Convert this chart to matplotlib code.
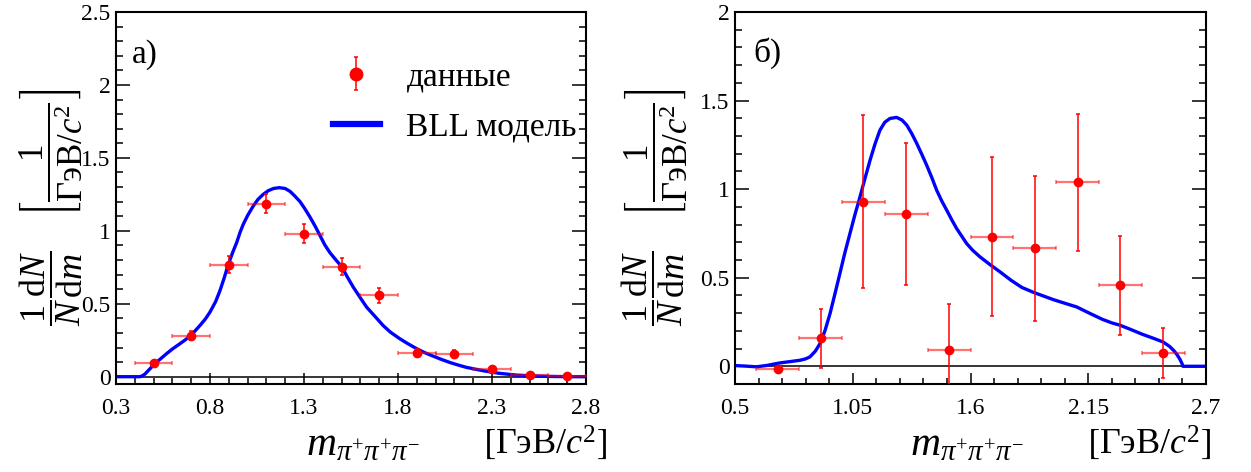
import numpy as np
import matplotlib
matplotlib.use("Agg")
import matplotlib.pyplot as plt
from matplotlib.ticker import FixedLocator, FuncFormatter
from matplotlib.container import ErrorbarContainer
from matplotlib.legend_handler import HandlerErrorbar

plt.rcParams['font.family'] = ['Liberation Serif', 'DejaVu Serif']
plt.rcParams['mathtext.fontset'] = 'custom'
plt.rcParams['mathtext.rm'] = 'Liberation Serif'
plt.rcParams['mathtext.it'] = 'Liberation Serif:italic'
plt.rcParams['mathtext.bf'] = 'Liberation Serif:bold'
plt.rcParams['mathtext.fallback'] = 'stix'

# ---------------- data: panel a) ----------------
a_x = [0.5, 0.7, 0.9, 1.1, 1.3, 1.5, 1.7, 1.9, 2.1, 2.3, 2.5, 2.7]
a_xerr = [0.1] * 12
a_y = [0.091, 0.282, 0.768, 1.186, 0.980, 0.755, 0.559, 0.164, 0.155, 0.050, 0.014, 0.004]
a_yerr = [0.012, 0.030, 0.057, 0.063, 0.065, 0.057, 0.052, 0.028, 0.028, 0.010, 0.005, 0.003]

a_curve_x = [0.30, 0.40, 0.428, 0.44, 0.454, 0.47, 0.485, 0.499, 0.53, 0.57, 0.60, 0.641,
             0.67, 0.697, 0.72, 0.747, 0.775, 0.80, 0.83, 0.853, 0.875, 0.897, 0.92,
             0.942, 0.96, 0.977, 1.00, 1.03, 1.055, 1.083, 1.11, 1.137, 1.169, 1.20,
             1.226, 1.25, 1.279, 1.305, 1.332, 1.36, 1.385, 1.41, 1.438, 1.47, 1.50,
             1.53, 1.562, 1.60, 1.633, 1.68, 1.72, 1.76, 1.809, 1.85, 1.898, 1.94,
             1.987, 2.03, 2.075, 2.12, 2.164, 2.21, 2.253, 2.30, 2.34, 2.43, 2.52,
             2.60, 2.70, 2.80]
a_curve_y = [0.0, 0.0, 0.0, 0.006, 0.018, 0.04, 0.06, 0.08, 0.115, 0.159, 0.19, 0.227,
             0.254, 0.284, 0.313, 0.352, 0.395, 0.443, 0.515, 0.59, 0.675, 0.768, 0.85,
             0.92, 0.99, 1.045, 1.105, 1.17, 1.215, 1.25, 1.275, 1.29, 1.296, 1.29,
             1.27, 1.24, 1.20, 1.15, 1.094, 1.03, 0.968, 0.905, 0.85, 0.80, 0.755,
             0.685, 0.614, 0.54, 0.477, 0.41, 0.352, 0.305, 0.261, 0.228, 0.193, 0.166,
             0.141, 0.119, 0.098, 0.08, 0.064, 0.052, 0.041, 0.031, 0.023, 0.011, 0.005,
             0.002, 0.0, 0.0]

# ---------------- data: panel б) ----------------
b_x = [0.7, 0.9, 1.1, 1.3, 1.5, 1.7, 1.9, 2.1, 2.3, 2.5]
b_xerr = [0.1] * 10
b_y = [-0.013, 0.158, 0.930, 0.861, 0.094, 0.731, 0.665, 1.038, 0.458, 0.075]
b_yerr = [0.006, 0.166, 0.490, 0.400, 0.255, 0.448, 0.408, 0.387, 0.280, 0.143]

b_curve_x = [0.50, 0.55, 0.60, 0.65, 0.71, 0.767, 0.804, 0.83, 0.85, 0.875, 0.897, 0.92,
             0.944, 0.967, 0.99, 1.013, 1.037, 1.06, 1.084, 1.107, 1.131, 1.154, 1.177,
             1.20, 1.224, 1.255, 1.28, 1.302, 1.325, 1.349, 1.372, 1.395, 1.42, 1.442,
             1.465, 1.489, 1.512, 1.535, 1.56, 1.582, 1.61, 1.644, 1.69, 1.738, 1.79,
             1.84, 1.893, 1.94, 1.99, 2.04, 2.096, 2.15, 2.216, 2.26, 2.298, 2.35,
             2.404, 2.45, 2.50, 2.53, 2.55, 2.565, 2.578, 2.588, 2.592, 2.70]
b_curve_y = [0.004, 0.001, -0.003, 0.005, 0.019, 0.028, 0.034, 0.042, 0.053, 0.085, 0.128, 0.20,
             0.298, 0.41, 0.524, 0.64, 0.750, 0.855, 0.957, 1.06, 1.164, 1.255, 1.333,
             1.378, 1.399, 1.405, 1.39, 1.362, 1.315, 1.258, 1.198, 1.136, 1.063, 0.994,
             0.935, 0.881, 0.828, 0.778, 0.733, 0.693, 0.655, 0.618, 0.575, 0.533, 0.485,
             0.445, 0.418, 0.397, 0.375, 0.356, 0.335, 0.303, 0.265, 0.245, 0.232, 0.207,
             0.180, 0.16, 0.137, 0.112, 0.088, 0.065, 0.04, 0.015, 0.0, 0.0]

# tick labels
a_xticks = [0.3, 0.8, 1.3, 1.8, 2.3, 2.8]
a_yticks = [0, 0.5, 1, 1.5, 2, 2.5]
b_xticks = [0.5, 1.05, 1.6, 2.15, 2.7]
b_yticks = [0, 0.5, 1, 1.5, 2]

W, H = 1251, 472
fig = plt.figure(figsize=(W / 100, H / 100), dpi=100)


def px_axes(x0, x1, y0, y1):
    return fig.add_axes([x0 / W, 1 - y1 / H, (x1 - x0) / W, (y1 - y0) / H])


def style(ax, xlim, ylim, xticks, xminor, yticks, yminor):
    ax.set_xlim(*xlim)
    ax.set_ylim(*ylim)
    ax.xaxis.set_major_locator(FixedLocator(xticks))
    ax.xaxis.set_minor_locator(FixedLocator(xminor))
    ax.yaxis.set_major_locator(FixedLocator(yticks))
    ax.yaxis.set_minor_locator(FixedLocator(yminor))
    fmt = FuncFormatter(lambda v, p: f"{v:g}")
    ax.xaxis.set_major_formatter(fmt)
    ax.yaxis.set_major_formatter(fmt)
    ax.tick_params(axis='x', which='major', direction='in', length=8, width=1.1,
                   labelsize=17, pad=10, top=False, bottom=True)
    ax.tick_params(axis='x', which='minor', direction='in', length=4, width=1.1,
                   top=False, bottom=True)
    ax.tick_params(axis='y', which='major', direction='in', length=10, width=1.1,
                   labelsize=17, pad=4, left=True, right=True)
    ax.tick_params(axis='y', which='minor', direction='in', length=5, width=1.1,
                   left=True, right=True)
    for s in ax.spines.values():
        s.set_linewidth(1.5)
    ax.axhline(0, color='black', lw=1.1, zorder=1)


def draw(ax, x, xerr, y, yerr, cx, cy):
    ax.plot(cx, cy, color='#0000ff', lw=2.4, zorder=2)
    ax.errorbar(x, y, xerr=xerr, fmt='none', ecolor=(1, 0, 0, 0.55), elinewidth=1.6,
                capsize=1.6, capthick=1.1, zorder=3)
    eb = ax.errorbar(x, y, yerr=yerr, fmt='o', color='red', ms=6, elinewidth=1.1,
                     capsize=1.6, capthick=1.1, zorder=4)
    return eb


# panel a
ax1 = px_axes(116, 586, 12, 384)
style(ax1, (0.3, 2.8), (-0.05, 2.5), a_xticks, np.arange(0.3, 2.801, 0.1),
      a_yticks, np.arange(0.0, 2.501, 0.1))
eb1 = draw(ax1, a_x, a_xerr, a_y, a_yerr, a_curve_x, a_curve_y)
ln1, = ax1.plot([], [], color='#0000ff', lw=4.5)
ax1.legend([eb1, ln1], ['данные', 'BLL модель'], loc='upper left',
           bbox_to_anchor=(0.462, 0.866), frameon=False, fontsize=24,
           handlelength=1.4, handletextpad=0.8, labelspacing=0.6,
           borderpad=0, borderaxespad=0, markerscale=1.5,
           handler_map={ErrorbarContainer: HandlerErrorbar(yerr_size=0.5)})
ax1.text(0.034, 0.885, 'а)', transform=ax1.transAxes, fontsize=24,
         ha='left', va='center')

# panel б
ax2 = px_axes(735, 1206, 12, 384)
style(ax2, (0.5, 2.7), (-0.1, 2.0), b_xticks, np.arange(0.5, 2.701, 0.11),
      b_yticks, np.arange(-0.1, 2.001, 0.1))
draw(ax2, b_x, b_xerr, b_y, b_yerr, b_curve_x, b_curve_y)
ax2.text(0.038, 0.89, 'б)', transform=ax2.transAxes, fontsize=24,
         ha='left', va='center')

# axis titles
ylab_frac = r"$\dfrac{1}{N}\dfrac{\mathrm{d}N}{\mathrm{d}m}$"
ylab_unit = r"$\left[\dfrac{1}{\mathrm{ГэВ}/c^{2}}\right]$"
xlab_m = r"$m_{\pi^{+}\pi^{+}\pi^{-}}$"
xlab_unit = r"$\left[\mathrm{ГэВ}/c^{2}\right]$"

for xf, xu in ((51, 51), (653, 656)):
    fig.text(xf / W, 1 - 288 / H, ylab_frac, rotation=90, ha='center', va='center', fontsize=26)
    fig.text(xu / W, 1 - 153 / H, ylab_unit, rotation=90, ha='center', va='center', fontsize=25)

fig.text(363 / W, 1 - 445 / H, xlab_m, ha='center', va='center', fontsize=30)
fig.text(607 / W, 1 - 443 / H, xlab_unit, ha='right', va='center', fontsize=26)
fig.text(967 / W, 1 - 445 / H, xlab_m, ha='center', va='center', fontsize=30)
fig.text(1211 / W, 1 - 443 / H, xlab_unit, ha='right', va='center', fontsize=26)

fig.savefig('out.png', dpi=100)
